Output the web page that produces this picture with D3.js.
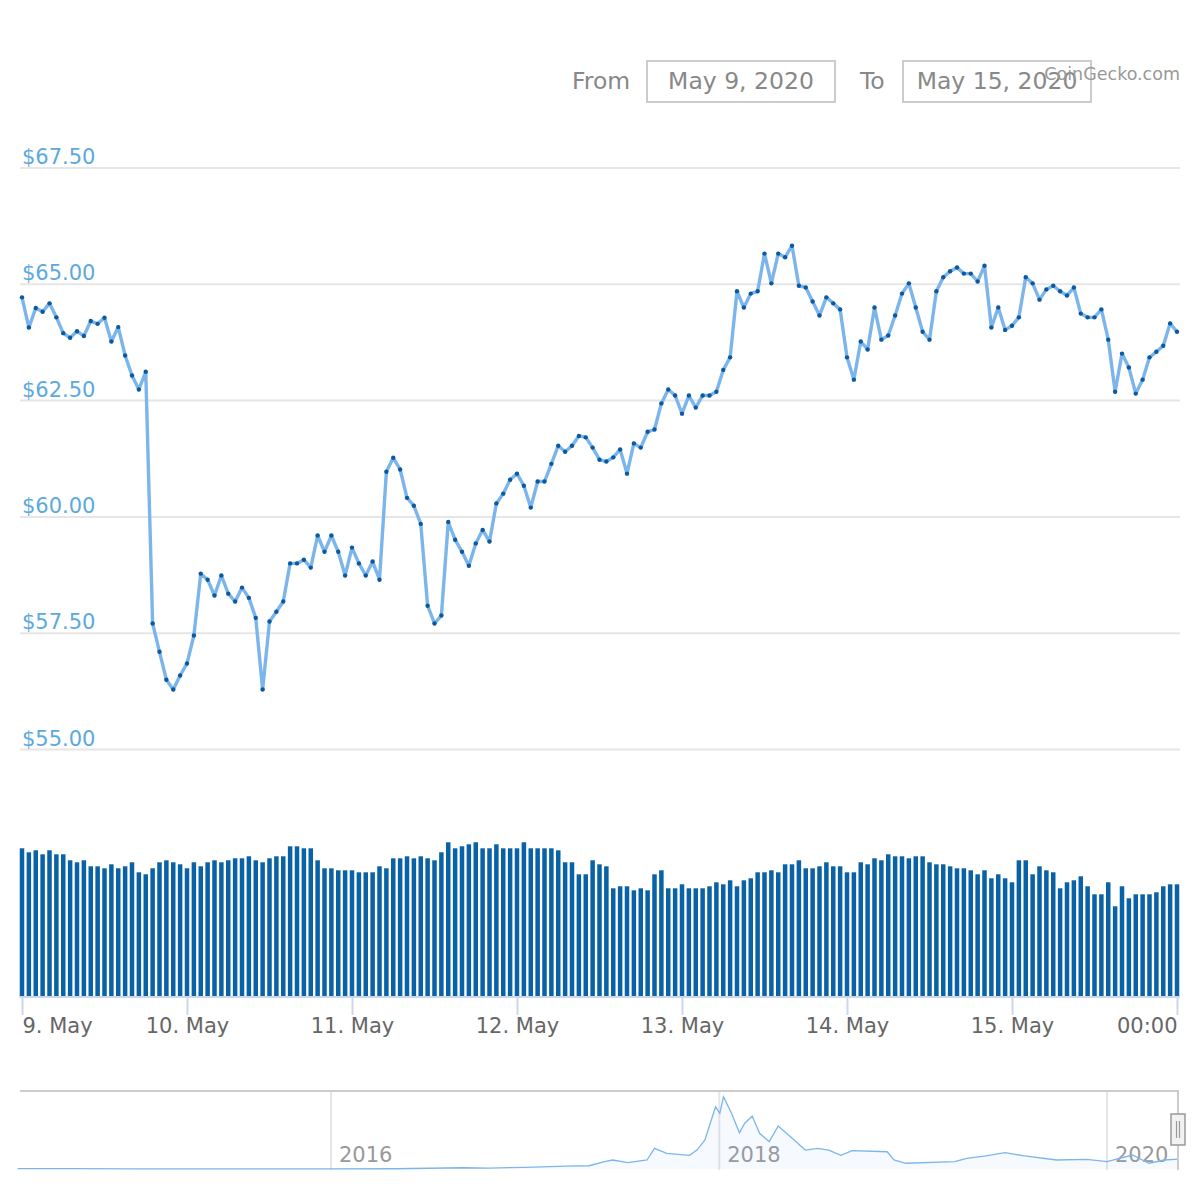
<!DOCTYPE html>
<html><head><meta charset="utf-8">
<script src="https://cdn.jsdelivr.net/npm/d3@7"></script>
<style>body{margin:0;background:#fff}svg{display:block}text{font-family:"DejaVu Sans",sans-serif}</style>
</head><body>
<svg id="chart" width="1200" height="1200"></svg>
<script>
// ---- data (hourly, May 9 2020 00:00 UTC .. May 16 2020 00:00 UTC) ----
const startTime = Date.UTC(2020, 4, 9, 0, 0);
const prices = [
64.72,64.07,64.49,64.41,64.59,64.29,63.95,63.85,63.99,63.89,64.21,64.15,64.28,63.77,64.08,63.47,63.04,62.74,63.12,57.71,
57.10,56.50,56.29,56.59,56.85,57.45,58.78,58.65,58.31,58.74,58.35,58.18,58.48,58.26,57.83,56.29,57.75,57.96,58.18,59.00,
59.00,59.08,58.91,59.60,59.25,59.60,59.25,58.74,59.34,59.00,58.74,59.04,58.65,60.97,61.27,61.02,60.41,60.24,59.85,58.09,
57.71,57.88,59.89,59.51,59.25,58.95,59.43,59.72,59.47,60.29,60.50,60.80,60.93,60.67,60.20,60.76,60.76,61.14,61.53,61.40,
61.53,61.74,61.71,61.49,61.23,61.19,61.28,61.45,60.93,61.58,61.49,61.83,61.88,62.44,62.74,62.61,62.22,62.61,62.35,62.61,
62.61,62.69,63.16,63.43,64.85,64.50,64.80,64.85,65.66,65.02,65.66,65.58,65.83,64.97,64.93,64.63,64.33,64.72,64.59,64.46,
63.43,62.95,63.77,63.60,64.50,63.81,63.90,64.33,64.80,65.02,64.50,63.98,63.81,64.85,65.15,65.28,65.36,65.23,65.23,65.06,
65.40,64.07,64.50,64.02,64.11,64.29,65.15,65.02,64.67,64.89,64.97,64.85,64.76,64.93,64.37,64.29,64.29,64.46,63.81,62.69,
63.51,63.21,62.65,62.95,63.43,63.55,63.68,64.16,63.98
];
const volumes = [
1487,1447,1467,1427,1467,1427,1427,1367,1347,1367,1307,1307,1287,1327,1287,1307,1347,1247,1227,1287,1347,1367,1347,1327,
1287,1347,1307,1347,1367,1347,1367,1387,1387,1407,1367,1347,1387,1407,1407,1507,1507,1487,1487,1367,1287,1287,1267,1267,
1267,1247,1247,1247,1307,1287,1387,1387,1407,1387,1407,1387,1367,1447,1547,1487,1507,1527,1547,1487,1487,1527,1487,1487,
1487,1547,1487,1487,1487,1487,1467,1347,1347,1227,1227,1367,1327,1307,1087,1107,1107,1067,1087,1067,1227,1267,1087,1087,
1127,1087,1087,1087,1107,1147,1127,1167,1107,1167,1187,1247,1247,1267,1247,1327,1327,1367,1287,1287,1307,1347,1307,1307,
1247,1247,1347,1327,1387,1367,1427,1407,1407,1387,1407,1407,1347,1327,1327,1307,1287,1287,1267,1227,1267,1187,1227,1187,
1147,1367,1367,1227,1307,1267,1247,1087,1147,1167,1207,1107,1027,1027,1147,907,1107,987,1027,1027,1027,1047,1107,1127,1127
];
const yTickValues = [55, 57.5, 60, 62.5, 65, 67.5];
const xTickLabels = ["9. May","10. May","11. May","12. May","13. May","14. May","15. May","00:00"];
const navDates = ["2014-05-21","2014-09-01","2015-01-01","2015-07-01","2016-01-01","2016-05-01","2016-09-05","2016-10-25",
"2016-12-31","2017-03-20","2017-05-01","2017-05-30","2017-06-14","2017-07-13","2017-08-18","2017-09-01","2017-09-24",
"2017-11-06","2017-11-20","2017-12-05","2017-12-25","2018-01-02","2018-01-09","2018-01-24","2018-02-08","2018-02-18",
"2018-03-04","2018-03-18","2018-04-05","2018-04-22","2018-05-22","2018-06-12","2018-07-05","2018-07-26","2018-08-18",
"2018-09-08","2018-11-13","2018-11-26","2018-12-18","2019-03-20","2019-04-12","2019-05-18","2019-06-23","2019-07-30",
"2019-09-28","2019-11-24","2020-01-01","2020-02-18","2020-03-20","2020-04-18","2020-05-15"];
const navPrices = [2.5,3,0.8,0.6,0.5,1.5,8,6,11,19,21,47,58,41,58,133,101,88,122,187,401,359,466,359,234,295,341,230,176,277,
187,122,133,122,88,118,111,58,37,47,69,84,105,84,58,62,47,90,37,58,63];
const navYearLabels = ["2016","2018","2020"];
const fromText = "From", toText = "To", fromDate = "May 9, 2020", toDate = "May 15, 2020", credit = "CoinGecko.com";

// ---- drawing ----
const svg = d3.select("#chart");
svg.append("rect").attr("width",1200).attr("height",1200).attr("fill","#fff");
const times = prices.map((d,i) => new Date(startTime + i*3600e3));
const dayTicks = d3.range(8).map(k => new Date(startTime + k*24*3600e3));

const x = d3.scaleUtc().domain([times[0], times[times.length-1]]).range([22, 1177]);
const y = d3.scaleLinear().domain([55, 67.5]).range([749.5, 168]);
const yv = d3.scaleLinear().domain([0, 1600]).range([997, 837]);

// header
const hdr = svg.append("g").attr("font-size", 23.5).attr("fill", "#888");
hdr.append("text").attr("x", 572).attr("y", 89).text(fromText);
hdr.append("rect").attr("x",647).attr("y",61).attr("width",188).attr("height",41).attr("fill","none").attr("stroke","#ccc").attr("stroke-width",2);
hdr.append("text").attr("x", 741).attr("y", 89).attr("text-anchor","middle").text(fromDate);
hdr.append("text").attr("x", 860).attr("y", 89).text(toText);
hdr.append("rect").attr("x",903).attr("y",61).attr("width",188).attr("height",41).attr("fill","none").attr("stroke","#ccc").attr("stroke-width",2);
hdr.append("text").attr("x", 997).attr("y", 89).attr("text-anchor","middle").text(toDate);
svg.append("text").attr("x",1180).attr("y",80).attr("text-anchor","end").attr("font-size",17.5).attr("fill","#999").text(credit);

// grid + y labels
const grid = svg.append("g");
yTickValues.forEach(v => {
  grid.append("line").attr("x1",20).attr("x2",1180).attr("y1",y(v)).attr("y2",y(v)).attr("stroke","#e6e6e6").attr("stroke-width",2);
  grid.append("text").attr("x",22).attr("y",y(v)-4).attr("font-size",21).attr("fill","#5ca9dd").text("$" + d3.format(".2f")(v));
});

// volume bars
svg.append("g").selectAll("rect").data(volumes).join("rect")
  .attr("x",(d,i)=>x(times[i])-2.25).attr("width",4.5)
  .attr("y",d=>yv(d)).attr("height",d=>yv(0)-yv(d)).attr("fill","#0a62a6");

// x axis
const xAxis = d3.axisBottom(x).tickValues(dayTicks).tickFormat((d,i)=>xTickLabels[i]).tickSize(18).tickSizeOuter(0);
const gx = svg.append("g").attr("transform","translate(0,997)").call(xAxis);
gx.select(".domain").remove();
gx.append("line").attr("x1",20).attr("x2",1180).attr("y1",0).attr("y2",0).attr("stroke","#ccd6eb").attr("stroke-width",2);
gx.selectAll(".tick line").attr("stroke","#ccd6eb").attr("stroke-width",2);
gx.selectAll(".tick text").attr("font-size",21).attr("fill","#666").attr("font-family","DejaVu Sans")
  .attr("text-anchor",(d,i)=> i===0 ? "start" : (i===xTickLabels.length-1 ? "end" : "middle"));

// price line + markers
const line = d3.line().x((d,i)=>x(times[i])).y(d=>y(d));
svg.append("path").datum(prices).attr("d",line).attr("fill","none").attr("stroke","#7cb5ec").attr("stroke-width",3.4).attr("stroke-linejoin","round");
svg.append("g").selectAll("circle").data(prices).join("circle")
  .attr("cx",(d,i)=>x(times[i])).attr("cy",d=>y(d)).attr("r",2.2).attr("fill","#0b5aa0");

// navigator
const navParse = d3.utcParse("%Y-%m-%d");
const navT = navDates.map(navParse);
const xn = d3.scaleUtc().domain([navParse("2016-01-01"), navParse("2020-01-01")]).range([331, 1107]);
const yn = d3.scaleLinear().domain([0, 470]).range([1169, 1096]);
const nav = svg.append("g");
navYearLabels.forEach(lbl => {
  const gxp = xn(navParse(lbl + "-01-01"));
  nav.append("line").attr("x1",gxp).attr("x2",gxp).attr("y1",1091).attr("y2",1170).attr("stroke","#e6e6e6").attr("stroke-width",2);
  nav.append("text").attr("x",gxp+8).attr("y",1162).attr("font-size",21).attr("fill","#999").text(lbl);
});
const area = d3.area().x((d,i)=>xn(navT[i])).y0(yn(0)).y1(d=>yn(d));
nav.append("path").datum(navPrices).attr("d",area).attr("fill","#7cb5ec").attr("fill-opacity",0.07);
nav.append("path").datum(navPrices).attr("d",d3.line().x((d,i)=>xn(navT[i])).y(d=>yn(d)))
  .attr("fill","none").attr("stroke","#7cb5ec").attr("stroke-width",1.3);
// outline
nav.append("path").attr("d","M20,1091 L1178,1091 L1178,1170").attr("fill","none").attr("stroke","#ccc").attr("stroke-width",2);
// handle
const hx = 1178;
nav.append("rect").attr("x",hx-7).attr("y",1114).attr("width",14).attr("height",31).attr("fill","#f2f2f2").attr("stroke","#999").attr("stroke-width",1.5);
[-1.5, 1.5].forEach(o => nav.append("line").attr("x1",hx+o).attr("x2",hx+o).attr("y1",1121).attr("y2",1138).attr("stroke","#999").attr("stroke-width",1.2));
</script>
</body></html>
